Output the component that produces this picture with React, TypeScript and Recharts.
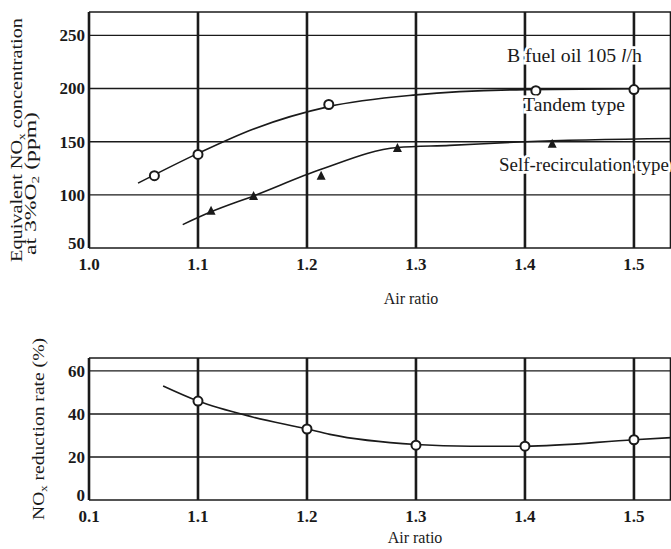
import React from 'react';
import {
  ComposedChart, Line, Scatter, XAxis, YAxis, CartesianGrid,
} from 'recharts';

// air ratio ticks shared by both panels
const airTicks = [1.0, 1.1, 1.2, 1.3, 1.4, 1.5];

// upper panel: equivalent NOx (ppm)
const noxTicks = [50, 100, 150, 200, 250];
// measured points
const tandemAir = [1.06, 1.10, 1.22, 1.41, 1.50];
const tandemNox = [118, 138, 185, 198, 199];
const selfAir = [1.112, 1.151, 1.213, 1.283, 1.425];
const selfNox = [85, 99, 118, 144, 148];
// fitted curves as drawn
const tandemCurveAir = [1.045, 1.10, 1.151, 1.22, 1.30, 1.40, 1.534];
const tandemCurveNox = [111, 139, 162, 183, 194, 199, 200];
const selfCurveAir = [1.086, 1.112, 1.151, 1.213, 1.283, 1.331, 1.40, 1.534];
const selfCurveNox = [72, 84, 99, 124, 144.5, 146.5, 150, 153];

// lower panel: NOx reduction rate (%)
const rateTicks = [0, 20, 40, 60];
const rateAir = [1.1, 1.2, 1.3, 1.4, 1.5];
const rateVal = [46, 33, 25.5, 25, 28];
const rateCurveAir = [1.068, 1.1, 1.15, 1.2, 1.221, 1.3, 1.35, 1.4, 1.5, 1.534];
const rateCurveVal = [53, 46, 38.6, 33, 30.5, 25.8, 25, 25, 28, 29];

const zip = (xs: number[], ys: number[]) => xs.map((x, i) => ({ x, y: ys[i] }));

const FONT = '"Liberation Serif", "DejaVu Serif", serif';
const INK = '#1a1a1a';
const tickStyle = { fill: INK, fontSize: 17, fontFamily: FONT, fontWeight: 700 };

const Circle = (p: any) => (
  <circle cx={p.cx} cy={p.cy} r={4.5} fill="#fff" stroke={INK} strokeWidth={2} />
);
const Tri = (p: any) => (
  <polygon
    points={`${p.cx},${p.cy - 5} ${p.cx - 4.5},${p.cy + 4} ${p.cx + 4.5},${p.cy + 4}`}
    fill={INK}
  />
);

// lowest label sits a little above the axis line, as in the print
const YTick = ({ x, y, payload, index }: any) => (
  <text x={x} y={y - (index === 0 ? 5 : 0)} dy="0.35em" textAnchor="end" {...tickStyle}>
    {payload.value}
  </text>
);

function Panel({ height, margin, domain, yTicks, children, first }: any) {
  return (
    <ComposedChart width={671} height={height} margin={margin}>
      <CartesianGrid horizontal={false} stroke={INK} strokeWidth={2.6} />
      <CartesianGrid vertical={false} stroke={INK} strokeWidth={1.4} />
      <XAxis
        type="number"
        dataKey="x"
        domain={[1.0, 1.534]}
        ticks={airTicks}
        allowDataOverflow
        height={30}
        axisLine={false}
        tickLine={false}
        tickSize={4}
        tickMargin={6}
        tick={tickStyle}
        tickFormatter={(v: number) => (first ? v.toFixed(1) : v === 1 ? '0.1' : v.toFixed(1))}
      />
      <YAxis
        type="number"
        dataKey="y"
        domain={domain}
        ticks={yTicks}
        allowDataOverflow
        width={60}
        axisLine={false}
        tickLine={false}
        tickSize={3}
        tickMargin={1}
        tick={<YTick />}
      />
      {children}
    </ComposedChart>
  );
}

export default function App() {
  const fit = 'spacingAndGlyphs';
  return (
    <div style={{ position: 'absolute', left: 0, top: 0, width: 671, height: 549, background: '#fff' }}>
      <div style={{ position: 'absolute', left: 0, top: 0 }}>
        <Panel height={320} margin={{ top: 12, right: 0, left: 29, bottom: 42 }} domain={[50, 272]} yTicks={noxTicks} first>
          <Line data={zip(tandemCurveAir, tandemCurveNox)} dataKey="y" type="monotone" stroke={INK} strokeWidth={1.6} dot={false} isAnimationActive={false} />
          <Line data={zip(selfCurveAir, selfCurveNox)} dataKey="y" type="monotone" stroke={INK} strokeWidth={1.6} dot={false} isAnimationActive={false} />
          <Scatter data={zip(tandemAir, tandemNox)} dataKey="y" shape={Circle} isAnimationActive={false} />
          <Scatter data={zip(selfAir, selfNox)} dataKey="y" shape={Tri} isAnimationActive={false} />
        </Panel>
      </div>
      <div style={{ position: 'absolute', left: 0, top: 330 }}>
        <Panel height={219} margin={{ top: 28, right: 0, left: 29, bottom: 19 }} domain={[0, 66]} yTicks={rateTicks}>
          <Line data={zip(rateCurveAir, rateCurveVal)} dataKey="y" type="monotone" stroke={INK} strokeWidth={1.6} dot={false} isAnimationActive={false} />
          <Scatter data={zip(rateAir, rateVal)} dataKey="y" shape={Circle} isAnimationActive={false} />
        </Panel>
      </div>
      <svg width={671} height={549} style={{ position: 'absolute', left: 0, top: 0, pointerEvents: 'none' }}
        fontFamily={FONT} fill={INK}>
        <g stroke="#fff" strokeWidth={5} paintOrder="stroke" fontSize={18}>
          <text x={507} y={62} textLength={135} lengthAdjust={fit}>B fuel oil 105 <tspan fontStyle="italic">l</tspan>/h</text>
          <text x={523} y={111} textLength={102} lengthAdjust={fit}>Tandem type</text>
          <text x={499} y={171} textLength={170} lengthAdjust={fit}>Self-recirculation type</text>
        </g>
        <text x={411} y={304} fontSize={16} textAnchor="middle">Air ratio</text>
        <text x={415} y={543} fontSize={16} textAnchor="middle">Air ratio</text>
        <text transform="rotate(-90 22 262)" x={22} y={262} fontSize={17} textLength={244} lengthAdjust={fit}>
          Equivalent NO<tspan dy={3} fontSize={11}>x</tspan><tspan dy={-3}> concentration</tspan>
        </text>
        <text transform="rotate(-90 36 255)" x={36} y={255} fontSize={17} textLength={143} lengthAdjust={fit}>
          at 3%O<tspan dy={3} fontSize={11}>2</tspan><tspan dy={-3}> (ppm)</tspan>
        </text>
        <text transform="rotate(-90 44 520)" x={44} y={520} fontSize={17} textLength={182} lengthAdjust={fit}>
          NO<tspan dy={3} fontSize={11}>x</tspan><tspan dy={-3}> reduction rate (%)</tspan>
        </text>
      </svg>
    </div>
  );
}
